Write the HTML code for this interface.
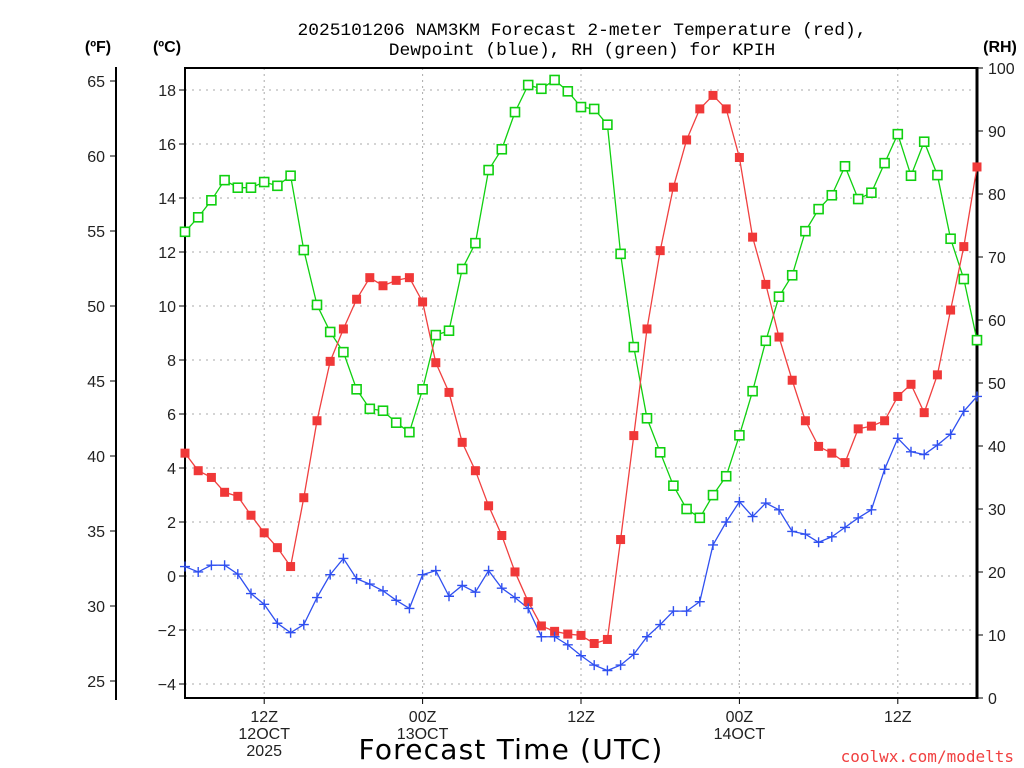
<!DOCTYPE html>
<html><head><meta charset="utf-8"><style>
html,body{margin:0;padding:0;background:#fff;}
svg{display:block;font-family:"Liberation Sans",sans-serif;}
</style></head><body>
<svg id="chart" width="1024" height="768" viewBox="0 0 1024 768" xmlns="http://www.w3.org/2000/svg">
<g id="grid"></g>
<g id="axes"></g>
<g id="series"></g>
<text x="582" y="35" font-size="17.9" text-anchor="middle" font-family="Liberation Mono, monospace">2025101206 NAM3KM Forecast 2-meter Temperature (red),</text>
<text x="582" y="55" font-size="17.9" text-anchor="middle" font-family="Liberation Mono, monospace">Dewpoint (blue), RH (green) for KPIH</text>
<text x="98" y="52" font-size="16" font-weight="bold" text-anchor="middle">(ºF)</text>
<text x="167" y="52" font-size="16" font-weight="bold" text-anchor="middle">(ºC)</text>
<text x="1000" y="52" font-size="16" font-weight="bold" text-anchor="middle">(RH)</text>
<text x="511" y="759" font-size="28" text-anchor="middle" font-family="DejaVu Sans, sans-serif" letter-spacing="1.2">Forecast Time (UTC)</text>
<text x="1014" y="762" font-size="16" text-anchor="end" fill="#f04040" font-family="DejaVu Sans Mono, monospace">coolwx.com/modelts</text>
</svg>
<script>
const hours = [];
for (let i = 0; i <= 60; i++) hours.push(i);
const tempC = [4.55,3.9,3.65,3.1,2.95,2.25,1.6,1.05,0.35,2.9,5.75,7.95,9.15,10.25,11.05,10.75,10.95,11.05,10.15,7.9,6.8,4.95,3.9,2.6,1.5,0.15,-0.95,-1.85,-2.05,-2.15,-2.2,-2.5,-2.35,1.35,5.2,9.15,12.05,14.4,16.15,17.3,17.8,17.3,15.5,12.55,10.8,8.85,7.25,5.75,4.8,4.55,4.2,5.45,5.55,5.75,6.65,7.1,6.05,7.45,9.85,12.2,15.15];
const dewC = [0.35,0.15,0.4,0.4,0.07,-0.65,-1.05,-1.75,-2.1,-1.8,-0.8,0.05,0.65,-0.1,-0.3,-0.55,-0.9,-1.2,0.05,0.2,-0.75,-0.35,-0.6,0.2,-0.45,-0.8,-1.2,-2.25,-2.25,-2.55,-2.95,-3.3,-3.5,-3.3,-2.9,-2.25,-1.8,-1.3,-1.3,-0.95,1.15,2.0,2.75,2.2,2.7,2.45,1.65,1.55,1.25,1.45,1.8,2.15,2.45,3.95,5.1,4.6,4.5,4.85,5.25,6.1,6.65];
const rh = [74,76.3,79,82.2,81,81,81.9,81.3,82.9,71.1,62.4,58.1,54.9,49,45.9,45.6,43.7,42.2,49,57.6,58.3,68.1,72.2,83.8,87.1,93,97.3,96.7,98.1,96.3,93.8,93.5,91,70.5,55.7,44.4,39,33.7,30,28.6,32.2,35.2,41.7,48.7,56.7,63.7,67.1,74.1,77.6,79.8,84.4,79.2,80.2,84.9,89.5,82.9,88.3,83,72.9,66.5,56.8];
const cTicks = [-4,-2,0,2,4,6,8,10,12,14,16,18];
const fTicks = [25,30,35,40,45,50,55,60,65];
const rhTicks = [0,10,20,30,40,50,60,70,80,90,100];
const xTickHours = [6,18,30,42,54];
const xTickLabels = [["12Z","12OCT","2025"],["00Z","13OCT"],["12Z"],["00Z","14OCT"],["12Z"]];

const NS = "http://www.w3.org/2000/svg";
const X0 = 185, X1 = 977, Y0 = 68, Y1 = 698;
const x = h => X0 + (X1 - X0) * h / 60;
const yC = c => 576 - c * 27;
const yF = f => yC((f - 32) * 5 / 9);
const yRH = r => Y1 - (Y1 - Y0) * r / 100;
function mk(tag, attrs, parent, txt) {
  const e = document.createElementNS(NS, tag);
  for (const k in attrs) e.setAttribute(k, attrs[k]);
  if (txt !== undefined) e.textContent = txt;
  parent.appendChild(e);
  return e;
}
const grid = document.getElementById('grid');
const axes = document.getElementById('axes');
const series = document.getElementById('series');

cTicks.forEach(c => {
  const l = mk('line', {x1: X0, x2: X1, y1: yC(c), y2: yC(c), stroke: '#aaa', 'stroke-dasharray': '2,5'}, grid);
  
  
  const t = mk('line', {x1: X0 - 6, x2: X0, y1: yC(c), y2: yC(c), stroke: '#000'}, axes);
  
  
  const lb = mk('text', {x: X0 - 9, y: yC(c) + 6, 'font-size': 16, 'text-anchor': 'end', fill: '#222'}, axes, c < 0 ? '\u2212' + Math.abs(c) : String(c));
  
  
});
xTickHours.forEach((h, i) => {
  const l = mk('line', {x1: x(h), x2: x(h), y1: Y0, y2: Y1, stroke: '#aaa', 'stroke-dasharray': '2,4'}, grid);
  
  
  const t = mk('line', {x1: x(h), x2: x(h), y1: Y1, y2: Y1 + 6, stroke: '#000'}, axes);
  
  
  xTickLabels[i].forEach((s, j) => {
    const lb = mk('text', {x: x(h), y: 722 + j * 17, 'font-size': 16, 'text-anchor': 'middle', fill: '#222'}, axes, s);
    
    
  });
});
fTicks.forEach(f => {
  const t = mk('line', {x1: 110, x2: 116, y1: yF(f), y2: yF(f), stroke: '#000'}, axes);
  
  
  const lb = mk('text', {x: 105, y: yF(f) + 6, 'font-size': 16, 'text-anchor': 'end', fill: '#222'}, axes, String(f));
  
  
});
rhTicks.forEach(r => {
  const t = mk('line', {x1: X1, x2: X1 + 6, y1: yRH(r), y2: yRH(r), stroke: '#000'}, axes);
  
  
  const lb = mk('text', {x: 988, y: yRH(r) + 6, 'font-size': 16, 'text-anchor': 'start', fill: '#222'}, axes, String(r));
  
  
});
const fAxis = mk('line', {x1: 116, x2: 116, y1: 67, y2: 700, stroke: '#000', 'stroke-width': 2}, axes);


const frame = mk('path', {d: `M${X1},${Y0} H${X0} V${Y1} H${X1}`, fill: 'none', stroke: '#000', 'stroke-width': 2}, axes);


const rAxis = mk('line', {x1: X1, x2: X1, y1: Y0 - 1, y2: Y1 + 1, stroke: '#000', 'stroke-width': 3}, axes);



function drawLine(vals, yf, color, name) {
  const p = mk('polyline', {points: vals.map((v, i) => x(hours[i]) + ',' + yf(v)).join(' '), fill: 'none', stroke: color, 'stroke-width': 1.3}, series);
  
  
}
drawLine(rh, yRH, '#10d010', 'rh');
drawLine(tempC, yC, '#f04040', 'temperature');
drawLine(dewC, yC, '#3050f0', 'dewpoint');
rh.forEach((v, i) => {
  const r = mk('rect', {x: x(hours[i]) - 4.5, y: yRH(v) - 4.5, width: 9, height: 9, fill: '#fff', stroke: '#10d010', 'stroke-width': 1.6}, series);
  
  
});
tempC.forEach((v, i) => {
  const r = mk('rect', {x: x(hours[i]) - 4.5, y: yC(v) - 4.5, width: 9, height: 9, fill: '#f03838'}, series);
  
  
});
dewC.forEach((v, i) => {
  const cx = x(hours[i]), cy = yC(v);
  const p = mk('path', {d: `M${cx - 5},${cy} H${cx + 5} M${cx},${cy - 5} V${cy + 5}`, stroke: '#3050f0', 'stroke-width': 1.4}, series);
  
  
});
</script>
</body></html>
